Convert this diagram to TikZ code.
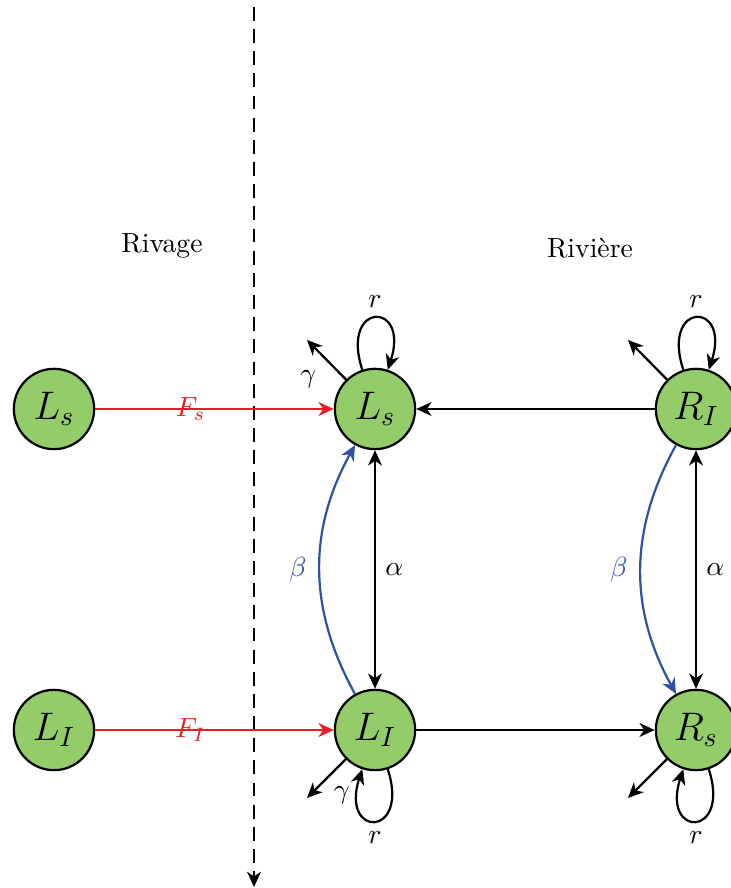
\documentclass[tikz,border=0pt]{standalone}
\usetikzlibrary{arrows.meta}
\definecolor{nodegreen}{RGB}{148,204,106}
\definecolor{betablue}{RGB}{48,80,165}
\definecolor{fred}{RGB}{237,28,36}
\begin{document}
\begin{tikzpicture}[x=0.361pt,y=0.361pt,
  state/.style={circle,draw=black,fill=nodegreen,thick,minimum size=29pt,inner sep=0pt,font=\Large},
  tip/.style={-{Stealth[length=5.5pt,width=5pt,inset=1.7pt]}},
  link/.style={thick,tip},
  bothlink/.style={thick,{Stealth[length=5.5pt,width=5pt,inset=1.7pt]}-{Stealth[length=5.5pt,width=5pt,inset=1.7pt]}},
  flow/.style={link,draw=fred},
  betalink/.style={link,draw=betablue},
  border/.style={thick,dash pattern=on 5pt off 3pt,tip},
  selfup/.style={out=108,in=72,loop,every loop/.style={looseness=7.3}},
  selfdown/.style={out=288,in=252,loop,every loop/.style={looseness=7.3}}
]
\useasboundingbox (0,0) rectangle (730,888);

% nodes
\node[state] (Lsl) at (54,479) {$L_s$};
\node[state] (LIl) at (54,158) {$L_I$};
\node[state] (Ls) at (375,479) {$L_s$};
\node[state] (LI) at (375,158) {$L_I$};
\node[state] (RI) at (696,479) {$R_I$};
\node[state] (Rs) at (696,158) {$R_s$};

\node (rivage) at (162,642) {Rivage};
\node (riviere) at (590,640) {Rivière};

\coordinate (dtop) at (254,881);
\coordinate (dbot) at (254,1);
\coordinate (gLs) at (307,548);
\coordinate (gRI) at (628,548);
\coordinate (gLI) at (307,90);
\coordinate (gRs) at (628,90);

% boundary
\draw[border] (dtop) -- (dbot);

% inflows
\draw[flow] (Lsl) -- node[pos=0.4,text=fred]{$F_s$} (Ls);
\draw[flow] (LIl) -- node[pos=0.4,text=fred]{$F_I$} (LI);

% horizontal links
\draw[link] (RI) -- (Ls);
\draw[link] (LI) -- (Rs);

% vertical links
\draw[bothlink] (Ls) -- node[right]{$\alpha$} (LI);
\draw[bothlink] (RI) -- node[right]{$\alpha$} (Rs);

% beta
\draw[betalink] (LI) to[bend left=29] node[left=1pt,text=betablue]{$\beta$} (Ls);
\draw[betalink] (RI) to[bend right=29] node[left=1pt,text=betablue]{$\beta$} (Rs);

% gamma
\draw[link] (Ls) -- node[pos=0.5,below left=0pt]{$\gamma$} (gLs);
\draw[link] (LI) -- node[pos=0.5,below right=-1pt]{$\gamma$} (gLI);
\draw[link] (RI) -- (gRI);
\draw[link] (Rs) -- (gRs);

% loops
\draw[link] (Ls) to[selfup] node[above]{$r$} (Ls);
\draw[link] (RI) to[selfup] node[above]{$r$} (RI);
\draw[link] (LI) to[selfdown] node[below]{$r$} (LI);
\draw[link] (Rs) to[selfdown] node[below]{$r$} (Rs);
\end{tikzpicture}
\end{document}
